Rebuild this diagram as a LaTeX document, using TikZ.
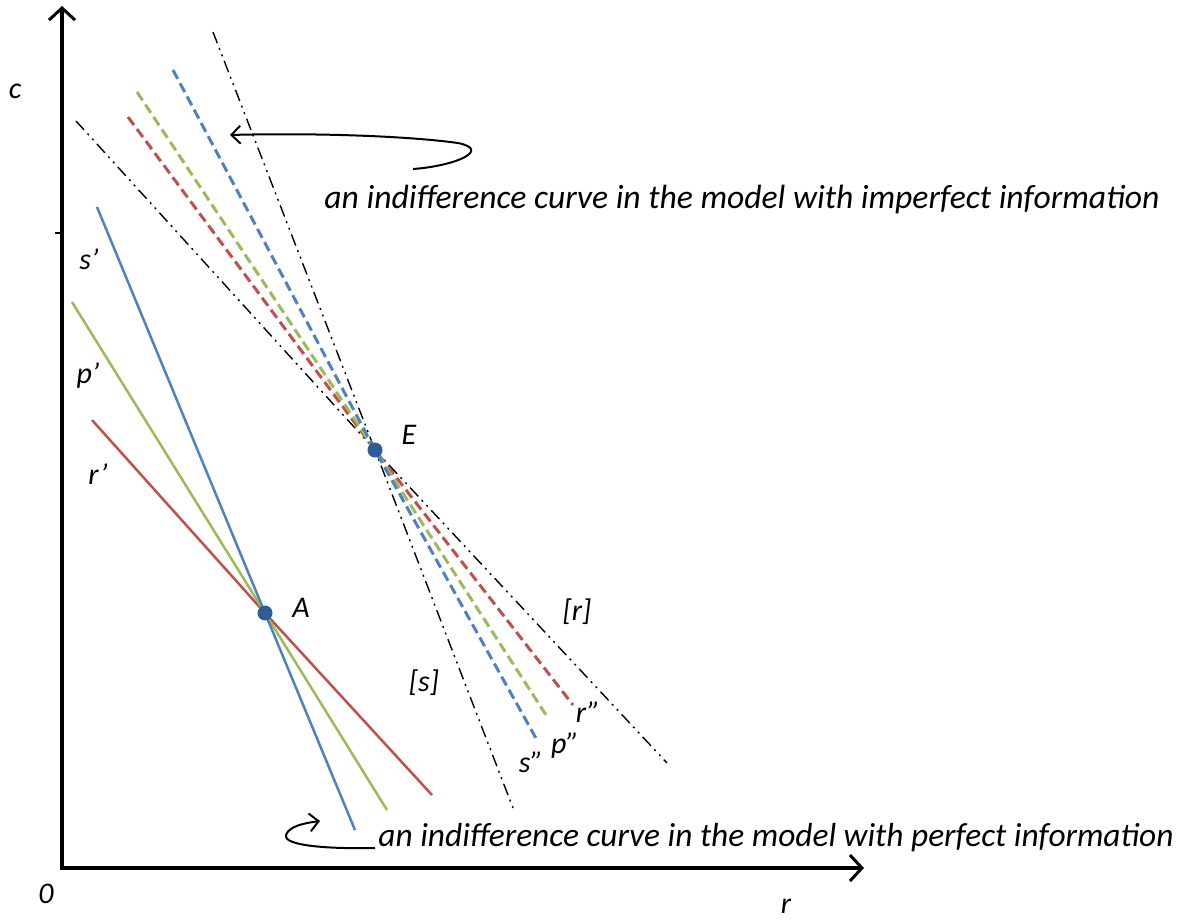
\documentclass[tikz,border=0pt]{standalone}
\usepackage{fontspec}
\setmainfont{Carlito}
\usetikzlibrary{arrows.meta}
\definecolor{lblue}{HTML}{4F81BD}
\definecolor{lgreen}{HTML}{9BBB59}
\definecolor{lred}{HTML}{C0504D}
\definecolor{dotblue}{HTML}{2F5B96}
\begin{document}
\begin{tikzpicture}[x=1pt,y=-1pt,
  axis/.style={line width=3.5pt,{Straight Barb[length=12pt,width=26pt,line width=3pt]}-{Straight Barb[length=12pt,width=26pt,line width=3pt]}},
  solidline/.style={line width=2.5pt},
  dashline/.style={line width=3pt,dash pattern=on 10pt off 5pt},
  ddline/.style={line width=1.4pt,dash pattern=on 12pt off 5pt on 2pt off 5pt on 2pt off 5pt},
  lbl/.style={font=\fontsize{30}{36}\selectfont\itshape,inner sep=0pt},
  dotpt/.style={circle,fill=dotblue,minimum size=15pt,inner sep=0pt},
  curl/.style={line width=2pt,-{Straight Barb[length=9pt,width=18pt,line width=2pt]}},
  note/.style={inner sep=0pt,font=\itshape}
]
\useasboundingbox (0,0) rectangle (1181,922);
% axes
\coordinate (O) at (62,868);
\coordinate (ytop) at (62,6);
\coordinate (xend) at (864,868);
\draw[axis] (ytop) -- (O) -- (xend);
\coordinate (tk1) at (55,233);
\coordinate (tk2) at (64,233);
\draw[line width=1.2pt] (tk1) -- (tk2);
\node[lbl] (lc) at (15,91) {c};
\node[lbl] (l0) at (46,894) {0};
\node[lbl] (lr) at (786,906) {r};
% points
\coordinate (Ec) at (375,450);
\coordinate (Ac) at (265,613);
% dash-dot-dot lines
\coordinate (st) at (213,32);
\coordinate (sb) at (513,808);
\coordinate (ft) at (76,121);
\coordinate (fb) at (667,763);
\draw[ddline] (st) -- (Ec) -- (sb);
\draw[ddline] (ft) -- (Ec) -- (fb);
% dashed lines
\coordinate (bdt) at (173,70);
\coordinate (bdb) at (537,740);
\coordinate (gdt) at (137,92);
\coordinate (gdb) at (548,718);
\coordinate (rdt) at (128,117);
\coordinate (rdb) at (573,705);
\draw[dashline,lred] (rdt) -- (Ec) -- (rdb);
\draw[dashline,lgreen] (gdt) -- (Ec) -- (gdb);
\draw[dashline,lblue] (bdt) -- (Ec) -- (bdb);
% solid lines
\coordinate (bst) at (97,207);
\coordinate (bsb) at (355,830);
\coordinate (gst) at (72,302);
\coordinate (gsb) at (387,810);
\coordinate (rst) at (92,420);
\coordinate (rsb) at (432,795);
\draw[solidline,lred] (rst) -- (Ac) -- (rsb);
\draw[solidline,lgreen] (gst) -- (Ac) -- (gsb);
\draw[solidline,lblue] (bst) -- (Ac) -- (bsb);
% dots
\node[dotpt] (E) at (Ec) {};
\node[dotpt] (A) at (Ac) {};
\node[lbl] (lE) at (409,435) {E};
\node[lbl] (lA) at (301,608) {A};
% line labels
\node[lbl] (ls1) at (89,259) {s’};
\node[lbl] (lp1) at (88,376) {p’};
\node[lbl] (lr1) at (98,474) {r’};
\node[lbl] (lbr) at (577,612) {[r]};
\node[lbl] (lbs) at (424,683) {[s]};
\node[lbl] (lr2) at (588,712) {r”};
\node[lbl] (lp2) at (565,746) {p”};
\node[lbl] (ls2) at (531,762) {s”};
% annotations
\node[note] (t1) at (742,200) {\resizebox{835pt}{!}{an indifference curve in the model with imperfect information}};
\node[note] (t2) at (776,838) {\resizebox{795pt}{!}{an indifference curve in the model with perfect information}};
\coordinate (c1s) at (413,169);
\coordinate (c1e) at (230,135);
\draw[curl] (c1s) .. controls (455,166) and (492,150) .. (458,143) .. controls (400,135) and (300,133) .. (c1e);
\coordinate (c2s) at (375,848);
\coordinate (c2e) at (320,821);
\draw[curl] (c2s) .. controls (330,849) and (283,846) .. (286,835) .. controls (289,826) and (305,823) .. (c2e);
\end{tikzpicture}
\end{document}
